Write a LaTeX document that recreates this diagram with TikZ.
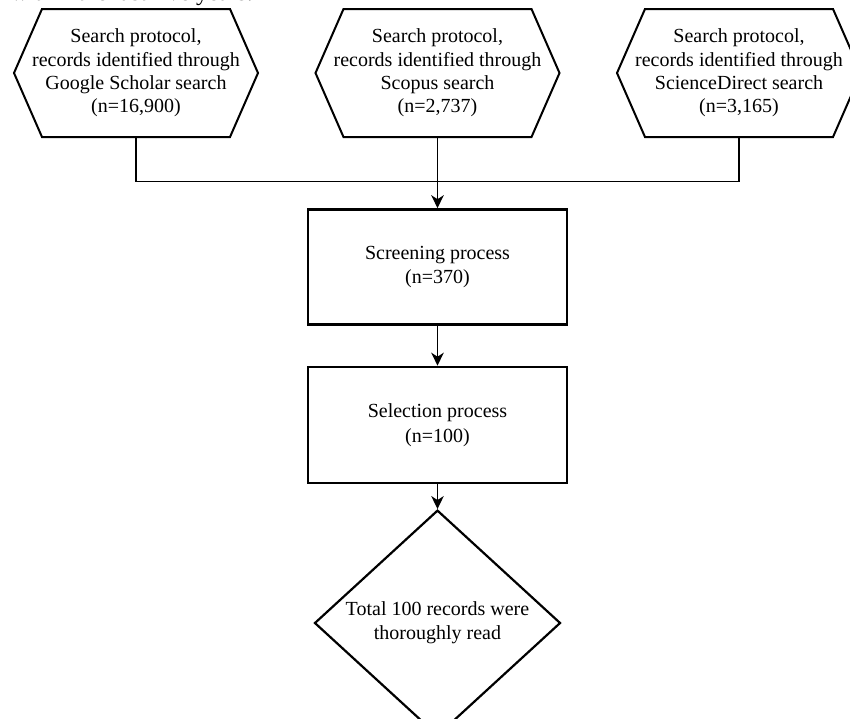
\documentclass[tikz,border=0pt]{standalone}
\usepackage{fontspec}
\setmainfont{Liberation Serif}
\usetikzlibrary{arrows.meta,calc,shapes.geometric}
\tikzset{
  hextext/.style={align=center,inner sep=0pt,font=\fontsize{20}{23.4}\selectfont},
  hexline/.style={draw=black,line width=2pt,line join=miter},
  procbox/.style={draw=black,line width=2.6pt,rectangle,minimum width=259pt,minimum height=115pt,align=center,inner sep=0pt,font=\fontsize{20}{24.5}\selectfont},
  decbox/.style={draw=black,line width=2.2pt,diamond,minimum width=246pt,minimum height=194pt,align=center,inner sep=0pt,font=\fontsize{20}{24}\selectfont},
  conn/.style={draw=black,line width=1.3pt},
  arr/.style={conn,-{Stealth[length=13pt,width=12.5pt,inset=4pt]}},
}
\begin{document}
\begin{tikzpicture}[x=1pt,y=-1pt]
\useasboundingbox (0,0) rectangle (850,718);
% cut-off caption fragment at the top edge
\node[anchor=base east,inner sep=0pt,font=\fontsize{24}{28}\selectfont] (cap) at (253,0.8) {within the last five years.};

% hexagon text nodes
\node[hextext] (g1) at (136,73) {Search protocol,\\records identified through\\Google Scholar search\\(n=16,900)};
\node[hextext] (g2) at (437.5,73) {Search protocol,\\records identified through\\Scopus search\\(n=2,737)};
\node[hextext] (g3) at (739,73) {Search protocol,\\records identified through\\ScienceDirect search\\(n=3,165)};

% hexagon outlines
\foreach \h in {g1,g2,g3}{
  \draw[hexline] ($(\h.center)+(-122,0)$) -- ($(\h.center)+(-94,-64)$) -- ($(\h.center)+(94,-64)$)
    -- ($(\h.center)+(122,0)$) -- ($(\h.center)+(94,64)$) -- ($(\h.center)+(-94,64)$) -- cycle;
}
\coordinate (g1b) at ($(g1.center)+(0,64)$);
\coordinate (g2b) at ($(g2.center)+(0,64)$);
\coordinate (g3b) at ($(g3.center)+(0,64)$);
\coordinate (j) at (437.5,181.5);

% process boxes
\node[procbox] (scr) at (437.5,267) {Screening process\\(n=370)};
\node[procbox,minimum height=116pt] (sel) at (437.5,425) {Selection process\\(n=100)};
\node[decbox] (tot) at (437.5,623) {Total 100 records were\\thoroughly read};

% connectors
\draw[conn] (g1b) |- (j) -| (g3b);
\draw[arr] (g2b) -- (scr.north);
\draw[arr] (scr.south) -- (sel.north);
\draw[arr] (sel.south) -- (tot.north);
\end{tikzpicture}
\end{document}
